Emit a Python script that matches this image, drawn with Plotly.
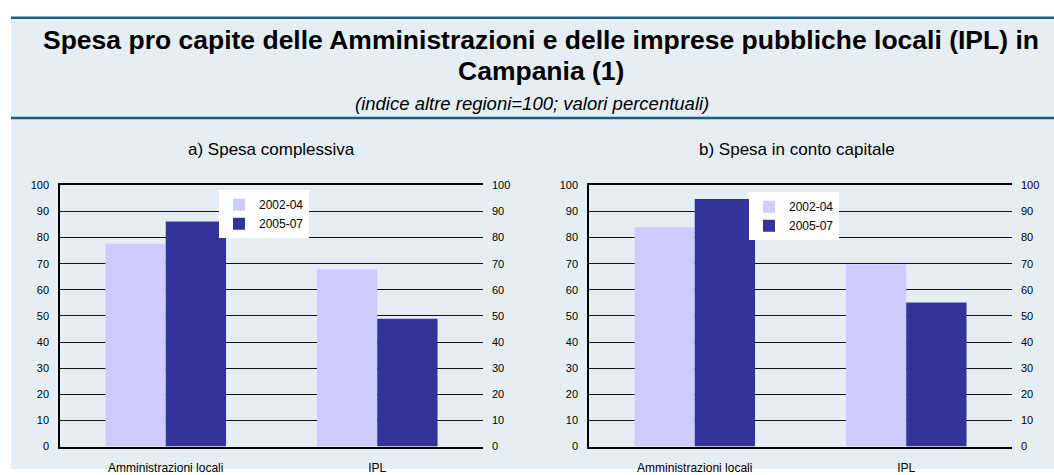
import plotly.graph_objects as go

categories = ["Amministrazioni locali", "IPL"]
series_names = ["2002-04", "2005-07"]
a_2002_04 = [77.6, 67.9]
a_2005_07 = [86.2, 48.9]
b_2002_04 = [84.0, 69.8]
b_2005_07 = [94.8, 55.2]
y_ticks = list(range(0, 101, 10))

W, H = 1054, 475
FONT = "Arial, Liberation Sans, sans-serif"
LIGHT = "#CCCCFF"
DARK = "#333399"
BG = "#E6EEF5"
NAVY = "#1B5A82"


def px_x(x):
    return x / W


def px_y(y):
    return 1 - y / H


fig = go.Figure()

panels = [
    ("x", "y", "y3", "legend", a_2002_04, a_2005_07),
    ("x2", "y2", "y4", "legend2", b_2002_04, b_2005_07),
]
for xa, ya, yr, lg, s1, s2 in panels:
    fig.add_trace(go.Bar(x=categories, y=s1, name=series_names[0], marker_color=LIGHT,
                         marker_line_width=0, xaxis=xa, yaxis=ya, legend=lg, hoverinfo="y"))
    fig.add_trace(go.Bar(x=categories, y=s2, name=series_names[1], marker_color=DARK,
                         marker_line_width=0, xaxis=xa, yaxis=ya, legend=lg, hoverinfo="y"))
    # invisible helper so the right-hand mirrored value axis is drawn
    fig.add_trace(go.Scatter(x=categories, y=s2, mode="markers", marker=dict(opacity=0),
                             xaxis=xa, yaxis=yr, showlegend=False, hoverinfo="skip"))

ydom = [px_y(452), px_y(184)]
tickfont = dict(family=FONT, size=11, color="#000")

yax_common = dict(range=[0, 100], tickvals=y_ticks, showgrid=True, gridcolor="#111", gridwidth=1,
                  showline=True, linecolor="#000", linewidth=1.5, zeroline=False,
                  tickfont=tickfont, ticks="", domain=ydom, fixedrange=True)
yax_right = dict(range=[0, 100], tickvals=y_ticks, showgrid=False, showline=False, zeroline=False,
                 tickfont=tickfont, ticks="", ticklabelstandoff=8, fixedrange=True, side="right")
xax_common = dict(showline=True, linecolor="#000", linewidth=1.5, mirror=True, ticks="",
                  tickfont=dict(family=FONT, size=12, color="#000"), showgrid=False,
                  fixedrange=True, ticklabelstandoff=9)

legend_common = dict(xanchor="left", yanchor="top", bgcolor="white",
                     font=dict(family=FONT, size=12, color="#000"),
                     tracegroupgap=0, itemwidth=30, borderwidth=0)

fig.update_layout(
    width=W, height=H,
    margin=dict(l=0, r=0, t=0, b=0),
    paper_bgcolor="white",
    plot_bgcolor="white",
    barmode="group",
    bargap=0.43,
    bargroupgap=0,
    showlegend=True,
    font=dict(family=FONT, color="#000"),
    xaxis=dict(domain=[px_x(60), px_x(483)], anchor="y", **xax_common),
    xaxis2=dict(domain=[px_x(589), px_x(1012)], anchor="y2", **xax_common),
    yaxis=dict(anchor="x", side="left", ticklabelstandoff=7, **yax_common),
    yaxis2=dict(anchor="x2", side="left", ticklabelstandoff=7, **yax_common),
    yaxis3=dict(anchor="x", overlaying="y", **yax_right),
    yaxis4=dict(anchor="x2", overlaying="y2", **yax_right),
    legend=dict(x=px_x(219), y=px_y(189), **legend_common),
    legend2=dict(x=px_x(749), y=px_y(191), **legend_common),
)

shapes = [
    dict(type="rect", xref="paper", yref="paper", x0=px_x(11), x1=1, y0=0, y1=px_y(12),
         fillcolor=BG, line_width=0, layer="below"),
    dict(type="line", xref="paper", yref="paper", x0=px_x(11), x1=1, y0=px_y(12), y1=px_y(12),
         line=dict(color=NAVY, width=2.5)),
    dict(type="line", xref="paper", yref="paper", x0=px_x(11), x1=1, y0=px_y(115), y1=px_y(115),
         line=dict(color=NAVY, width=2.5)),
]
fig.update_layout(shapes=shapes)

annotations = [
    dict(text="<b>Spesa pro capite delle Amministrazioni e delle imprese pubbliche locali (IPL) in</b>",
         x=px_x(541), y=px_y(35), xref="paper", yref="paper", showarrow=False,
         xanchor="center", yanchor="middle", font=dict(family=FONT, size=26.5, color="#000")),
    dict(text="<b>Campania (1)</b>",
         x=px_x(541), y=px_y(67), xref="paper", yref="paper", showarrow=False,
         xanchor="center", yanchor="middle", font=dict(family=FONT, size=26.5, color="#000")),
    dict(text="<i>(indice altre regioni=100; valori percentuali)</i>",
         x=px_x(532), y=px_y(100), xref="paper", yref="paper", showarrow=False,
         xanchor="center", yanchor="middle", font=dict(family=FONT, size=18.5, color="#000")),
    dict(text="a) Spesa complessiva",
         x=px_x(271), y=px_y(147), xref="paper", yref="paper", showarrow=False,
         xanchor="center", yanchor="middle", font=dict(family=FONT, size=17, color="#000")),
    dict(text="b) Spesa in conto capitale",
         x=px_x(797), y=px_y(147), xref="paper", yref="paper", showarrow=False,
         xanchor="center", yanchor="middle", font=dict(family=FONT, size=17, color="#000")),
]
fig.update_layout(annotations=annotations)

fig.write_html("out.html",
               config={"displayModeBar": False},
               post_script="document.body.style.margin='0';document.body.style.overflow='hidden';")
